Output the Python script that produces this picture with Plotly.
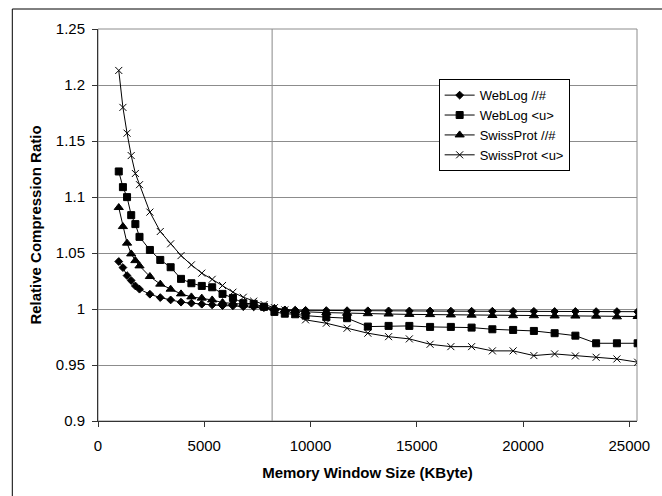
import plotly.graph_objects as go

# Window sizes in MB (1 MB = 1,000,000 bytes), converted to KByte
window_mb = [1.0, 1.2, 1.4, 1.6, 1.8, 2.0, 2.5, 3.0, 3.5, 4.0, 4.5, 5.0, 5.5, 6.0,
             6.5, 7.0, 7.5, 8.0, 8.5, 9.0, 9.5, 10, 11, 12, 13, 14, 15, 16, 17,
             18, 19, 20, 21, 22, 23, 24, 25, 26]
window_kb = [m * 1e6 / 1024 for m in window_mb]

weblog_hash = [1.0424, 1.0370, 1.0298, 1.0254, 1.0206, 1.0177, 1.0132, 1.0102, 1.0081,
               1.0061, 1.0052, 1.0043, 1.0037, 1.0030, 1.0028, 1.0021, 1.0019, 1.0012,
               1.0001, 0.9992, 0.9990, 0.9988, 0.9986, 0.9985, 0.9984, 0.9983, 0.9982,
               0.9982, 0.9981, 0.9980, 0.9980, 0.9979, 0.9979, 0.9978, 0.9978, 0.9977,
               0.9977, 0.9976]
weblog_u = [1.1228, 1.1088, 1.0999, 1.0838, 1.0758, 1.0644, 1.0527, 1.0438, 1.0373,
            1.0269, 1.0230, 1.0206, 1.0194, 1.0135, 1.0099, 1.0052, 1.0046, 1.0019,
            0.9974, 0.9958, 0.9953, 0.9941, 0.9927, 0.9918, 0.9843, 0.9849, 0.9849,
            0.9840, 0.9840, 0.9834, 0.9819, 0.9813, 0.9804, 0.9784, 0.9762, 0.9694,
            0.9694, 0.9694]
swiss_hash = [1.0906, 1.0736, 1.0588, 1.0492, 1.0432, 1.0385, 1.0290, 1.0222, 1.0177,
              1.0135, 1.0108, 1.0097, 1.0081, 1.0057, 1.0052, 1.0043, 1.0030, 1.0020,
              1.0006, 0.9990, 0.9982, 0.9975, 0.9968, 0.9962, 0.9958, 0.9955, 0.9952,
              0.9950, 0.9947, 0.9945, 0.9942, 0.9940, 0.9940, 0.9938, 0.9937, 0.9936,
              0.9930, 0.9933]
swiss_u = [1.213, 1.180, 1.157, 1.137, 1.121, 1.111, 1.0865, 1.0692, 1.0582, 1.0477,
           1.0394, 1.0320, 1.0265, 1.0210, 1.0150, 1.0105, 1.0070, 1.0040, 1.0012,
           0.9992, 0.9954, 0.9903, 0.9873, 0.9828, 0.9784, 0.9753, 0.9733, 0.9685,
           0.9664, 0.9664, 0.9626, 0.9626, 0.9584, 0.9599, 0.9581, 0.9569, 0.9554,
           0.9525]

series_names = ["WebLog //#", "WebLog &lt;u&gt;", "SwissProt //#", "SwissProt &lt;u&gt;"]
series_values = [weblog_hash, weblog_u, swiss_hash, swiss_u]
marker_symbols = ["diamond", "square", "triangle-up", "x-thin"]
marker_sizes = [6, 7, 8, 7]

y_ticks = [0.9, 0.95, 1.0, 1.05, 1.1, 1.15, 1.2, 1.25]
y_ticktext = ["0.9", "0.95", "1", "1.05", "1.1", "1.15", "1.2", "1.25"]
x_ticks = [0, 5000, 10000, 15000, 20000, 25000]
x_ticktext = ["0", "5000", "10000", "15000", "20000", "25000"]
marker_line_kb = 8192

FONT = "Liberation Sans, Arial, sans-serif"

fig = go.Figure()
for name, vals, sym, sz in zip(series_names, series_values, marker_symbols, marker_sizes):
    fig.add_trace(go.Scatter(
        x=window_kb, y=vals, name=name, mode="lines+markers",
        line=dict(color="black", width=1),
        marker=dict(symbol=sym, size=sz, color="black",
                    line=dict(color="black", width=1)),
    ))

# vertical reference line
fig.add_shape(type="line", xref="x", yref="paper", x0=marker_line_kb, x1=marker_line_kb,
              y0=0, y1=1, line=dict(color="#888888", width=1), layer="below")
# plot-area border (gray)
fig.add_shape(type="rect", xref="paper", yref="paper", x0=0, x1=1, y0=0, y1=1,
              line=dict(color="#8c8c8c", width=1), layer="below")
# outer chart border
fig.add_shape(type="rect", xref="paper", yref="paper", x0=-0.159, x1=1.2, y0=-0.3,
              y1=1.051, line=dict(color="black", width=1), layer="below")

fig.update_layout(
    width=662, height=496,
    margin=dict(l=98, r=18, t=29, b=75),
    paper_bgcolor="white", plot_bgcolor="white",
    font=dict(family=FONT, color="black", size=15),
    showlegend=True,
    legend=dict(x=0.632, y=0.872, xanchor="left", yanchor="top",
                bordercolor="black", borderwidth=1, bgcolor="white",
                font=dict(family=FONT, size=13, color="black"),
                tracegroupgap=0),
    xaxis=dict(range=[0, 25360], tickvals=x_ticks, ticktext=x_ticktext,
               showgrid=False, zeroline=False, showline=True, linecolor="#333333",
               linewidth=1, ticks="outside", ticklen=5, tickcolor="#333333",
               tickfont=dict(size=15), ticklabelstandoff=6,
               title=dict(text="<b>Memory Window Size (KByte)</b>",
                          font=dict(size=15), standoff=14)),
    yaxis=dict(range=[0.9, 1.25], tickvals=y_ticks, ticktext=y_ticktext,
               showgrid=True, gridcolor="#8c8c8c", gridwidth=1, zeroline=False,
               showline=True, linecolor="#333333", linewidth=1, ticks="outside",
               ticklen=5, tickcolor="#333333", tickfont=dict(size=15),
               ticklabelstandoff=4,
               title=dict(text="<b>Relative Compression Ratio</b>",
                          font=dict(size=15), standoff=10)),
)

fig.write_html("out.html")
